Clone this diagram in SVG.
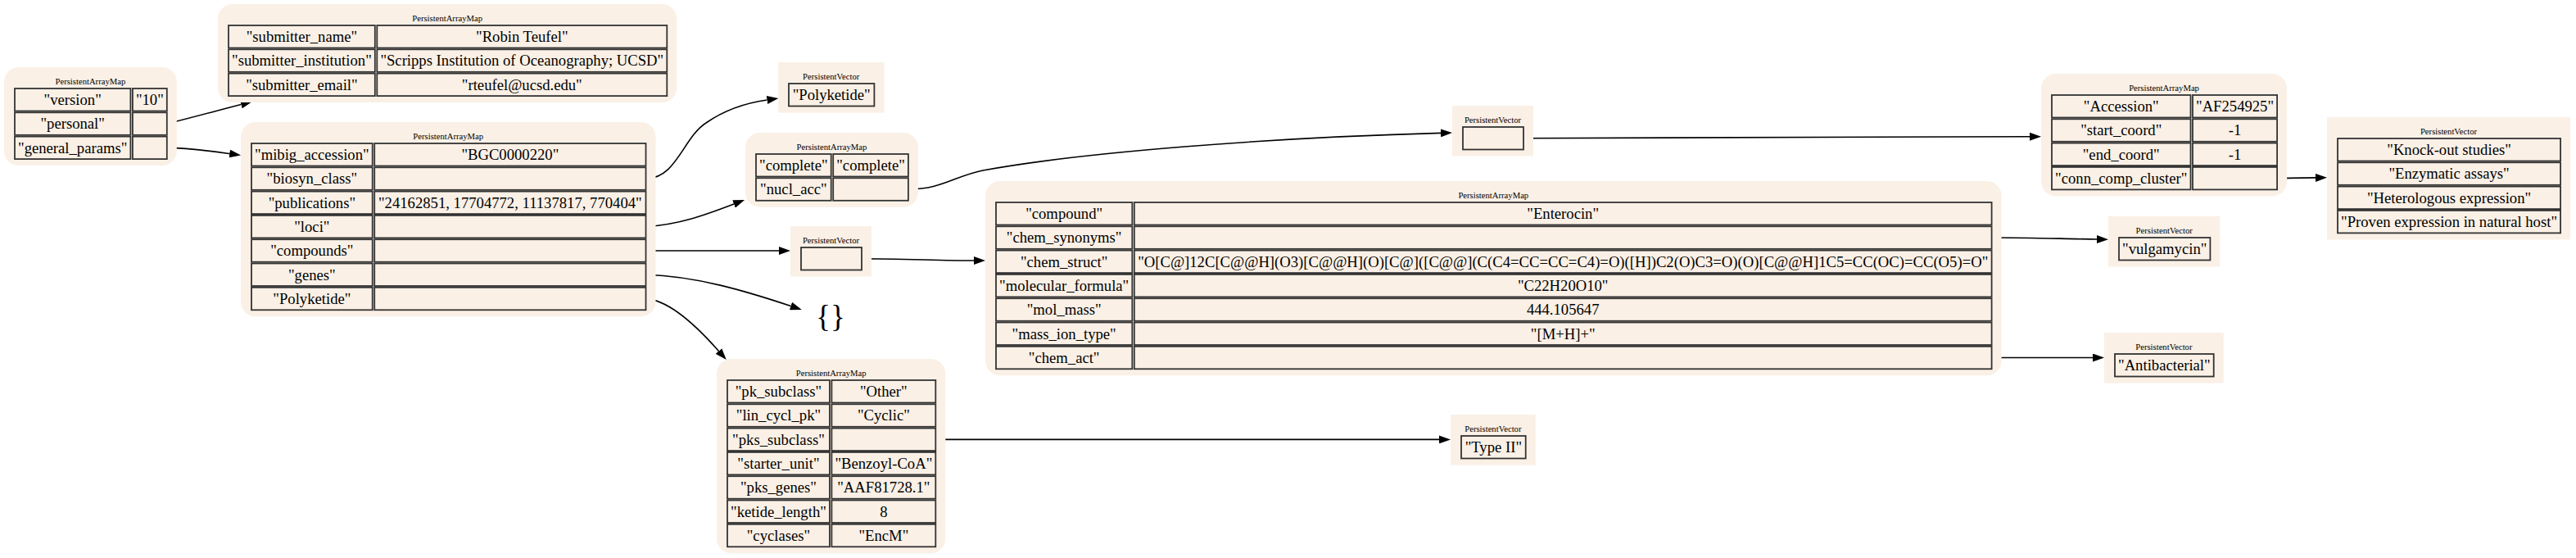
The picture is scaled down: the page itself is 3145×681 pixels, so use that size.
<svg xmlns="http://www.w3.org/2000/svg" width="3145" height="681" viewBox="0 0 3145 681">
<defs>
<style>
.bg{fill:#faf0e6}
.c{fill:#faf0e6;stroke:#333;stroke-width:1.8}
.t{font-family:"Liberation Serif","Times New Roman",serif;font-size:18.67px;text-anchor:middle;fill:#000}
.h{font-family:"Liberation Serif","Times New Roman",serif;font-size:10.67px;text-anchor:middle;fill:#000}
.e{fill:none;stroke:#000;stroke-width:1.6;marker-end:url(#ah)}
</style>
<marker id="ah" markerUnits="userSpaceOnUse" markerWidth="14" markerHeight="10" viewBox="0 0 14 10" refX="0" refY="5" orient="auto"><path d="M0,0L14,5L0,10z" fill="#000"/></marker>
</defs>
<rect width="3145" height="681" fill="#fff"/>

<g id="edges">
<path class="e" d="M204,151 C240,142 265,135 294.4,127.5"/>
<path class="e" d="M204,180.4 C230,180.5 255,184 280.2,187.5"/>
<path class="e" d="M788.5,218 C826,218 834,168 862,150 C885,134 908,126 936.5,122"/>
<path class="e" d="M788.5,276.6 C830,274 862,262 896,249"/>
<path class="e" d="M788.5,306 L951,306"/>
<path class="e" d="M788.5,335.3 C850,337 910,355 965.5,373.5"/>
<path class="e" d="M788.5,364.6 C815,366 848,395 877.5,428.5"/>
<path class="e" d="M1109,231 C1150,231 1165,215 1200,208 C1320,186 1550,168 1759,162.4"/>
<path class="e" d="M1052,315.7 C1100,315.7 1150,318 1189,318"/>
<path class="e" d="M1860,168.7 C2100,168.7 2300,166.7 2478,166.7"/>
<path class="e" d="M2780.6,217.6 L2827,216.9"/>
<path class="e" d="M2431.6,290 C2480,290 2520,291.5 2560,292"/>
<path class="e" d="M2431.6,436.5 L2555,436.5"/>
<path class="e" d="M1140.6,536.4 L1757,536.4"/>
</g>

<g id="root">
<rect class="bg" x="5" y="82" width="210.8" height="120.1" rx="18"/>
<text class="h" x="110.4" y="102.5">PersistentArrayMap</text>
<rect class="c" x="18" y="108" width="141.4" height="27.5"/><rect class="c" x="161.9" y="108" width="41.9" height="27.5"/>
<rect class="c" x="18" y="137.3" width="141.4" height="27.5"/><rect class="c" x="161.9" y="137.3" width="41.9" height="27.5"/>
<rect class="c" x="18" y="166.6" width="141.4" height="27.5"/><rect class="c" x="161.9" y="166.6" width="41.9" height="27.5"/>
<text class="t" x="88.7" y="128.05">"version"</text><text class="t" x="182.85" y="128.05">"10"</text>
<text class="t" x="88.7" y="157.35">"personal"</text>
<text class="t" x="88.7" y="186.65">"general_params"</text>
</g>

<g id="personal">
<rect class="bg" x="266" y="5" width="560.3" height="120.1" rx="18"/>
<text class="h" x="546.15" y="25.5">PersistentArrayMap</text>
<rect class="c" x="279" y="31" width="178.8" height="27.5"/><rect class="c" x="460.3" y="31" width="354" height="27.5"/>
<rect class="c" x="279" y="60.3" width="178.8" height="27.5"/><rect class="c" x="460.3" y="60.3" width="354" height="27.5"/>
<rect class="c" x="279" y="89.6" width="178.8" height="27.5"/><rect class="c" x="460.3" y="89.6" width="354" height="27.5"/>
<text class="t" x="368.4" y="51.05">"submitter_name"</text><text class="t" x="637.3" y="51.05">"Robin Teufel"</text>
<text class="t" x="368.4" y="80.35">"submitter_institution"</text><text class="t" x="637.3" y="80.35">"Scripps Institution of Oceanography; UCSD"</text>
<text class="t" x="368.4" y="109.65">"submitter_email"</text><text class="t" x="637.3" y="109.65">"rteufel@ucsd.edu"</text>
</g>

<g id="general_params">
<rect class="bg" x="294" y="149" width="506.5" height="237.3" rx="18"/>
<text class="h" x="547.25" y="169.5">PersistentArrayMap</text>
<rect class="c" x="307" y="175" width="147.7" height="27.5"/><rect class="c" x="457.2" y="175" width="331.3" height="27.5"/>
<rect class="c" x="307" y="204.3" width="147.7" height="27.5"/><rect class="c" x="457.2" y="204.3" width="331.3" height="27.5"/>
<rect class="c" x="307" y="233.6" width="147.7" height="27.5"/><rect class="c" x="457.2" y="233.6" width="331.3" height="27.5"/>
<rect class="c" x="307" y="262.9" width="147.7" height="27.5"/><rect class="c" x="457.2" y="262.9" width="331.3" height="27.5"/>
<rect class="c" x="307" y="292.2" width="147.7" height="27.5"/><rect class="c" x="457.2" y="292.2" width="331.3" height="27.5"/>
<rect class="c" x="307" y="321.5" width="147.7" height="27.5"/><rect class="c" x="457.2" y="321.5" width="331.3" height="27.5"/>
<rect class="c" x="307" y="350.8" width="147.7" height="27.5"/><rect class="c" x="457.2" y="350.8" width="331.3" height="27.5"/>
<text class="t" x="380.85" y="195.05">"mibig_accession"</text><text class="t" x="622.85" y="195.05">"BGC0000220"</text>
<text class="t" x="380.85" y="224.35">"biosyn_class"</text>
<text class="t" x="380.85" y="253.65">"publications"</text><text class="t" x="622.85" y="253.65">"24162851, 17704772, 11137817, 770404"</text>
<text class="t" x="380.85" y="282.95">"loci"</text>
<text class="t" x="380.85" y="312.25">"compounds"</text>
<text class="t" x="380.85" y="341.55">"genes"</text>
<text class="t" x="380.85" y="370.85">"Polyketide"</text>
</g>

<g id="biosyn_class">
<rect class="bg" x="950" y="76" width="129.4" height="61.5"/>
<text class="h" x="1014.7" y="96.5">PersistentVector</text>
<rect class="c" x="963" y="102" width="104.4" height="27.5"/>
<text class="t" x="1015.2" y="122.05">"Polyketide"</text>
</g>

<g id="loci">
<rect class="bg" x="910" y="162" width="210.9" height="90.8" rx="18"/>
<text class="h" x="1015.45" y="182.5">PersistentArrayMap</text>
<rect class="c" x="923" y="188" width="91.7" height="27.5"/><rect class="c" x="1017.2" y="188" width="91.7" height="27.5"/>
<rect class="c" x="923" y="217.3" width="91.7" height="27.5"/><rect class="c" x="1017.2" y="217.3" width="91.7" height="27.5"/>
<text class="t" x="968.85" y="208.05">"complete"</text><text class="t" x="1063.05" y="208.05">"complete"</text>
<text class="t" x="968.85" y="237.35">"nucl_acc"</text>
</g>

<g id="compounds">
<rect class="bg" x="965" y="276" width="99" height="61.5"/>
<text class="h" x="1014.5" y="296.5">PersistentVector</text>
<rect class="c" x="978" y="302" width="74" height="27.5"/>
</g>

<g id="genes">
<text x="1014" y="399" style="font-family:'Liberation Serif','Times New Roman',serif;font-size:37.33px;text-anchor:middle">{}</text>
</g>

<g id="polyketide">
<rect class="bg" x="875" y="438" width="279.3" height="237.3" rx="18"/>
<text class="h" x="1014.65" y="458.5">PersistentArrayMap</text>
<rect class="c" x="888" y="464" width="124.9" height="27.5"/><rect class="c" x="1015.4" y="464" width="126.9" height="27.5"/>
<rect class="c" x="888" y="493.3" width="124.9" height="27.5"/><rect class="c" x="1015.4" y="493.3" width="126.9" height="27.5"/>
<rect class="c" x="888" y="522.6" width="124.9" height="27.5"/><rect class="c" x="1015.4" y="522.6" width="126.9" height="27.5"/>
<rect class="c" x="888" y="551.9" width="124.9" height="27.5"/><rect class="c" x="1015.4" y="551.9" width="126.9" height="27.5"/>
<rect class="c" x="888" y="581.2" width="124.9" height="27.5"/><rect class="c" x="1015.4" y="581.2" width="126.9" height="27.5"/>
<rect class="c" x="888" y="610.5" width="124.9" height="27.5"/><rect class="c" x="1015.4" y="610.5" width="126.9" height="27.5"/>
<rect class="c" x="888" y="639.8" width="124.9" height="27.5"/><rect class="c" x="1015.4" y="639.8" width="126.9" height="27.5"/>
<text class="t" x="950.45" y="484.05">"pk_subclass"</text><text class="t" x="1078.85" y="484.05">"Other"</text>
<text class="t" x="950.45" y="513.35">"lin_cycl_pk"</text><text class="t" x="1078.85" y="513.35">"Cyclic"</text>
<text class="t" x="950.45" y="542.65">"pks_subclass"</text>
<text class="t" x="950.45" y="571.95">"starter_unit"</text><text class="t" x="1078.85" y="571.95">"Benzoyl-CoA"</text>
<text class="t" x="950.45" y="601.25">"pks_genes"</text><text class="t" x="1078.85" y="601.25">"AAF81728.1"</text>
<text class="t" x="950.45" y="630.55">"ketide_length"</text><text class="t" x="1078.85" y="630.55">8</text>
<text class="t" x="950.45" y="659.85">"cyclases"</text><text class="t" x="1078.85" y="659.85">"EncM"</text>
</g>

<g id="compound">
<rect class="bg" x="1203" y="221" width="1240.6" height="237.3" rx="18"/>
<text class="h" x="1823.3" y="241.5">PersistentArrayMap</text>
<rect class="c" x="1216" y="247" width="166.3" height="27.5"/><rect class="c" x="1384.8" y="247" width="1046.8" height="27.5"/>
<rect class="c" x="1216" y="276.3" width="166.3" height="27.5"/><rect class="c" x="1384.8" y="276.3" width="1046.8" height="27.5"/>
<rect class="c" x="1216" y="305.6" width="166.3" height="27.5"/><rect class="c" x="1384.8" y="305.6" width="1046.8" height="27.5"/>
<rect class="c" x="1216" y="334.9" width="166.3" height="27.5"/><rect class="c" x="1384.8" y="334.9" width="1046.8" height="27.5"/>
<rect class="c" x="1216" y="364.2" width="166.3" height="27.5"/><rect class="c" x="1384.8" y="364.2" width="1046.8" height="27.5"/>
<rect class="c" x="1216" y="393.5" width="166.3" height="27.5"/><rect class="c" x="1384.8" y="393.5" width="1046.8" height="27.5"/>
<rect class="c" x="1216" y="422.8" width="166.3" height="27.5"/><rect class="c" x="1384.8" y="422.8" width="1046.8" height="27.5"/>
<text class="t" x="1299.15" y="267.05">"compound"</text><text class="t" x="1908.2" y="267.05">"Enterocin"</text>
<text class="t" x="1299.15" y="296.35">"chem_synonyms"</text>
<text class="t" x="1299.15" y="325.65">"chem_struct"</text><text class="t" x="1908.2" y="325.65">"O[C@]12C[C@@H](O3)[C@@H](O)[C@]([C@@](C(C4=CC=CC=C4)=O)([H])C2(O)C3=O)(O)[C@@H]1C5=CC(OC)=CC(O5)=O"</text>
<text class="t" x="1299.15" y="354.95">"molecular_formula"</text><text class="t" x="1908.2" y="354.95">"C22H20O10"</text>
<text class="t" x="1299.15" y="384.25">"mol_mass"</text><text class="t" x="1908.2" y="384.25">444.105647</text>
<text class="t" x="1299.15" y="413.55">"mass_ion_type"</text><text class="t" x="1908.2" y="413.55">"[M+H]+"</text>
<text class="t" x="1299.15" y="442.85">"chem_act"</text>
</g>

<g id="loci_vector">
<rect class="bg" x="1773" y="129" width="99" height="61.5"/>
<text class="h" x="1822.5" y="149.5">PersistentVector</text>
<rect class="c" x="1786" y="155" width="74" height="27.5"/>
</g>

<g id="locus">
<rect class="bg" x="2492" y="90" width="300.1" height="149.4" rx="18"/>
<text class="h" x="2642.05" y="110.5">PersistentArrayMap</text>
<rect class="c" x="2505" y="116" width="169.5" height="27.5"/><rect class="c" x="2677" y="116" width="103.1" height="27.5"/>
<rect class="c" x="2505" y="145.3" width="169.5" height="27.5"/><rect class="c" x="2677" y="145.3" width="103.1" height="27.5"/>
<rect class="c" x="2505" y="174.6" width="169.5" height="27.5"/><rect class="c" x="2677" y="174.6" width="103.1" height="27.5"/>
<rect class="c" x="2505" y="203.9" width="169.5" height="27.5"/><rect class="c" x="2677" y="203.9" width="103.1" height="27.5"/>
<text class="t" x="2589.75" y="136.05">"Accession"</text><text class="t" x="2728.55" y="136.05">"AF254925"</text>
<text class="t" x="2589.75" y="165.35">"start_coord"</text><text class="t" x="2728.55" y="165.35">-1</text>
<text class="t" x="2589.75" y="194.65">"end_coord"</text><text class="t" x="2728.55" y="194.65">-1</text>
<text class="t" x="2589.75" y="223.95">"conn_comp_cluster"</text>
</g>

<g id="evidence">
<rect class="bg" x="2841" y="143" width="297.1" height="149.4"/>
<text class="h" x="2989.55" y="163.5">PersistentVector</text>
<rect class="c" x="2854" y="169" width="272.1" height="27.5"/>
<rect class="c" x="2854" y="198.3" width="272.1" height="27.5"/>
<rect class="c" x="2854" y="227.6" width="272.1" height="27.5"/>
<rect class="c" x="2854" y="256.9" width="272.1" height="27.5"/>
<text class="t" x="2990.05" y="189.05">"Knock-out studies"</text>
<text class="t" x="2990.05" y="218.35">"Enzymatic assays"</text>
<text class="t" x="2990.05" y="247.65">"Heterologous expression"</text>
<text class="t" x="2990.05" y="276.95">"Proven expression in natural host"</text>
</g>

<g id="chem_synonyms">
<rect class="bg" x="2574" y="264" width="136.4" height="61.5"/>
<text class="h" x="2642.2" y="284.5">PersistentVector</text>
<rect class="c" x="2587" y="290" width="111.4" height="27.5"/>
<text class="t" x="2642.7" y="310.05">"vulgamycin"</text>
</g>

<g id="chem_act">
<rect class="bg" x="2569" y="406" width="145.7" height="61.5"/>
<text class="h" x="2641.85" y="426.5">PersistentVector</text>
<rect class="c" x="2582" y="432" width="120.7" height="27.5"/>
<text class="t" x="2642.35" y="452.05">"Antibacterial"</text>
</g>

<g id="pks_subclass">
<rect class="bg" x="1771" y="506" width="103.7" height="61.5"/>
<text class="h" x="1822.85" y="526.5">PersistentVector</text>
<rect class="c" x="1784" y="532" width="78.7" height="27.5"/>
<text class="t" x="1823.35" y="552.05">"Type II"</text>
</g>
</svg>
